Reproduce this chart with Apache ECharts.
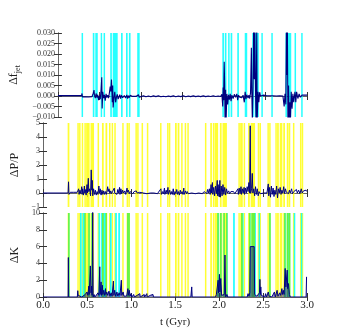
<!DOCTYPE html>
<html>
<head>
<meta charset="utf-8">
<script src="https://cdn.jsdelivr.net/npm/echarts@6/dist/echarts.min.js"></script>
<style>
  html, body { margin: 0; padding: 0; background: #fff; }
  #chart { width: 341px; height: 330px; }
</style>
</head>
<body>
<div id="chart"></div>
<script>
// time axis ticks (Gyr)
var xTicks = [0.0, 0.5, 1.0, 1.5, 2.0, 2.5, 3.0];

// jet fraction change, [t, value]
var fjetData = [
  [0.00,0.0002],[0.10,0.0002],[0.20,0.0002],[0.285,0.0002],[0.29,0.0012],[0.295,-0.0004],[0.31,0.0001],[0.33,-0.0004],
  [0.35,0.0000],[0.37,-0.0005],[0.39,0.0002],[0.41,-0.0003],[0.425,0.0012],[0.435,0.0028],[0.44,0.0004],[0.45,-0.0010],
  [0.46,0.0012],[0.47,-0.0008],[0.48,0.0006],[0.49,-0.0020],[0.50,0.0000],[0.51,-0.0015],[0.52,0.0030],[0.528,0.0089],
  [0.533,-0.0060],[0.54,0.0020],[0.55,-0.0010],[0.56,0.0005],[0.57,-0.0022],[0.58,0.0010],[0.59,-0.0008],[0.60,0.0004],
  [0.61,-0.0010],[0.62,0.0015],[0.63,0.0045],[0.637,0.0022],[0.645,0.0078],[0.65,0.0030],[0.655,-0.0030],[0.66,0.0050],
  [0.665,-0.0055],[0.675,-0.0010],[0.685,0.0020],[0.695,-0.0030],[0.705,-0.0005],[0.715,0.0008],[0.725,-0.0015],
  [0.735,-0.0005],[0.745,0.0006],[0.755,-0.0012],[0.765,0.0003],[0.78,-0.0008],[0.80,0.0002],[0.815,-0.0010],[0.83,0.0005],
  [0.84,-0.0012],[0.85,0.0002],[0.86,-0.0008],[0.87,0.0003],[0.885,-0.0006],[0.90,-0.0002],[0.92,-0.0008],[0.94,-0.0002],
  [0.96,-0.0010],[0.97,0.0006],[0.98,-0.0006],[1.00,-0.0003],[1.03,0.0001],[1.06,-0.0004],[1.09,0.0000],[1.12,-0.0004],
  [1.15,0.0001],[1.18,-0.0003],[1.21,0.0001],[1.24,-0.0004],[1.27,-0.0001],[1.30,-0.0004],[1.33,0.0000],[1.36,-0.0003],
  [1.39,0.0001],[1.42,-0.0004],[1.45,0.0000],[1.48,-0.0003],[1.51,0.0001],[1.54,-0.0004],[1.57,0.0000],[1.60,-0.0003],
  [1.63,0.0001],[1.66,-0.0003],[1.69,0.0000],[1.72,-0.0003],[1.75,0.0001],[1.78,-0.0003],[1.81,0.0000],[1.84,-0.0002],
  [1.87,0.0001],[1.90,-0.0002],[1.93,0.0000],[1.96,-0.0002],[1.975,0.0008],[1.985,-0.0050],[1.99,0.0040],[1.995,-0.0020],
  [2.003,0.0163],[2.008,0.0060],[2.013,-0.0120],[2.02,0.0030],[2.025,-0.0120],[2.035,0.0010],[2.045,-0.0040],[2.055,0.0006],
  [2.065,-0.0018],[2.075,0.0010],[2.085,-0.0025],[2.095,0.0004],[2.11,-0.0012],[2.125,0.0008],[2.14,-0.0006],[2.155,0.0010],
  [2.165,-0.0020],[2.175,0.0004],[2.19,-0.0006],[2.20,0.0002],[2.215,-0.0008],[2.23,0.0004],[2.245,-0.0030],[2.255,0.0020],
  [2.265,-0.0015],[2.275,0.0006],[2.29,-0.0010],[2.30,0.0004],[2.31,-0.0012],[2.32,0.0015],[2.33,0.0230],[2.335,0.0020],
  [2.342,-0.0120],[2.35,0.0040],[2.357,0.0320],[2.365,0.0080],[2.372,0.0320],[2.38,0.0020],[2.387,-0.0120],[2.395,0.0320],
  [2.40,-0.0120],[2.41,0.0020],[2.42,-0.0030],[2.43,0.0018],[2.44,0.0000],[2.455,-0.0008],[2.47,0.0004],[2.49,-0.0004],
  [2.51,0.0002],[2.53,-0.0003],[2.55,0.0001],[2.57,-0.0004],[2.59,0.0001],[2.61,-0.0003],[2.63,0.0000],[2.65,-0.0003],
  [2.67,0.0001],[2.69,-0.0003],[2.71,0.0000],[2.725,-0.0050],[2.735,0.0010],[2.745,-0.0040],[2.752,0.0320],[2.758,0.0100],
  [2.764,0.0320],[2.77,-0.0120],[2.778,0.0050],[2.785,-0.0120],[2.795,-0.0030],[2.80,-0.0120],[2.81,0.0020],[2.82,-0.0060],
  [2.83,0.0010],[2.84,-0.0030],[2.855,0.0020],[2.865,-0.0030],[2.875,0.0020],[2.89,-0.0012],[2.905,0.0010],[2.92,-0.0006],
  [2.94,0.0004],[2.96,0.0000],[2.98,0.0005],[3.00,0.0004]
];

// fractional period change, [t, value]
var dppData = [
  [0,0.0],[0.285,0.0],[0.29,0.8],[0.295,-0.1],[0.31,0.05],[0.33,-0.05],[0.35,0.05],[0.37,-0.05],[0.39,0.05],[0.405,0.3],
  [0.41,-0.1],[0.42,0.2],[0.43,-0.05],[0.44,0.45],[0.445,-0.1],[0.45,0.3],[0.46,-0.15],[0.47,0.5],[0.475,0.0],[0.48,0.25],
  [0.49,-0.15],[0.50,0.6],[0.505,0.0],[0.515,1.05],[0.52,0.1],[0.53,0.3],[0.54,-0.2],[0.548,1.65],[0.555,0.2],[0.56,0.9],
  [0.565,-0.2],[0.575,0.3],[0.585,-0.1],[0.595,0.2],[0.605,-0.15],[0.615,0.1],[0.625,-0.1],[0.635,0.5],[0.64,0.0],[0.65,0.3],
  [0.66,-0.15],[0.67,0.2],[0.68,-0.1],[0.69,0.15],[0.70,-0.1],[0.71,0.1],[0.72,-0.1],[0.735,0.45],[0.74,0.1],[0.75,0.3],
  [0.76,-0.05],[0.77,0.15],[0.78,-0.05],[0.79,0.1],[0.80,0.0],[0.81,0.35],[0.815,0.0],[0.83,0.1],[0.84,-0.1],[0.85,0.25],
  [0.86,0.0],[0.87,0.4],[0.875,-0.1],[0.885,0.3],[0.895,-0.05],[0.905,0.2],[0.915,0.0],[0.93,0.15],[0.94,-0.1],[0.955,0.35],
  [0.96,0.05],[0.97,0.2],[0.98,-0.05],[0.99,0.1],[1.00,0.0],[1.01,0.15],[1.02,-0.05],[1.035,0.1],[1.05,0.0],[1.06,0.15],
  [1.07,0.0],[1.08,0.1],[1.09,-0.05],[1.10,0.05],[1.12,0.1],[1.14,0.0],[1.16,0.05],[1.18,-0.05],[1.20,0.05],[1.22,0.0],
  [1.24,0.1],[1.26,0.0],[1.28,0.05],[1.30,-0.05],[1.32,0.05],[1.34,0.3],[1.345,-0.1],[1.36,0.1],[1.37,-0.05],[1.38,0.35],
  [1.385,-0.1],[1.40,0.2],[1.41,-0.05],[1.42,0.4],[1.425,-0.1],[1.44,0.2],[1.45,-0.1],[1.46,0.1],[1.47,-0.1],[1.48,0.3],
  [1.49,-0.15],[1.50,0.1],[1.51,-0.05],[1.52,0.25],[1.53,-0.1],[1.54,0.1],[1.55,-0.15],[1.56,0.2],[1.57,-0.05],[1.58,0.1],
  [1.59,-0.1],[1.60,0.35],[1.605,-0.1],[1.62,0.15],[1.63,-0.05],[1.64,0.1],[1.65,-0.05],[1.67,0.05],[1.69,0.0],[1.71,0.05],
  [1.73,-0.05],[1.75,0.05],[1.77,0.0],[1.79,0.05],[1.81,-0.05],[1.83,0.1],[1.85,0.2],[1.86,-0.05],[1.87,0.25],[1.88,0.0],
  [1.89,0.3],[1.90,-0.1],[1.91,0.6],[1.915,0.0],[1.925,0.75],[1.93,-0.1],[1.94,0.4],[1.95,-0.2],[1.96,0.5],[1.97,-0.05],
  [1.98,0.9],[1.985,-0.2],[1.99,0.6],[2.00,-0.25],[2.01,0.9],[2.015,-0.3],[2.025,0.5],[2.035,-0.2],[2.045,0.6],[2.055,-0.1],
  [2.065,0.4],[2.075,-0.15],[2.085,0.3],[2.095,0.0],[2.11,0.15],[2.12,-0.05],[2.135,0.1],[2.15,0.0],[2.165,0.1],[2.18,-0.05],
  [2.20,0.05],[2.215,0.3],[2.22,-0.1],[2.23,0.35],[2.24,-0.05],[2.25,0.45],[2.255,-0.1],[2.265,0.3],[2.275,0.0],[2.285,0.4],
  [2.29,-0.1],[2.30,0.35],[2.31,0.0],[2.32,0.45],[2.33,0.1],[2.34,0.75],[2.348,0.0],[2.355,4.8],[2.36,0.0],[2.37,0.3],
  [2.378,1.4],[2.385,0.0],[2.395,0.3],[2.405,-0.2],[2.415,0.45],[2.425,-0.1],[2.435,0.3],[2.445,-0.2],[2.455,0.1],[2.47,-0.05],
  [2.49,0.05],[2.51,0.0],[2.53,0.1],[2.545,0.0],[2.56,0.65],[2.565,-0.2],[2.575,0.4],[2.585,-0.3],[2.595,0.5],[2.605,-0.1],
  [2.615,0.35],[2.625,-0.25],[2.635,0.2],[2.645,-0.1],[2.655,0.5],[2.665,-0.35],[2.675,0.3],[2.685,0.0],[2.695,0.4],[2.705,-0.1],
  [2.715,0.2],[2.725,0.0],[2.735,0.45],[2.745,-0.05],[2.755,0.3],[2.765,0.05],[2.775,0.1],[2.79,-0.05],[2.80,0.2],[2.81,0.0],
  [2.825,0.3],[2.835,-0.05],[2.85,0.1],[2.865,0.0],[2.88,0.25],[2.89,0.0],[2.905,0.2],[2.92,-0.05],[2.935,0.3],[2.945,0.0],
  [2.96,0.15],[2.975,0.05],[2.99,0.2],[3.00,0.1]
];

// kinetic change, [t, value]
var dkData = [
  [0,0],[0.285,0],[0.288,4.7],[0.292,0],[0.39,0],[0.395,0.75],[0.40,0.2],[0.41,0.0],[0.44,0.0],[0.45,0.2],[0.46,0.0],
  [0.48,0.3],[0.49,0.1],[0.50,0.6],[0.51,0.2],[0.52,1.3],[0.525,0.3],[0.538,3.7],[0.545,0.5],[0.552,1.3],[0.558,0.2],
  [0.565,10.5],[0.57,0.0],[0.58,0.3],[0.59,0.0],[0.60,0.2],[0.61,0.0],[0.625,0.5],[0.635,0.2],[0.645,3.6],[0.65,0.3],
  [0.66,1.8],[0.665,0.2],[0.675,1.4],[0.68,0.3],[0.69,0.8],[0.70,0.2],[0.71,1.0],[0.715,0.3],[0.725,0.6],[0.735,0.2],
  [0.75,0.7],[0.76,0.1],[0.775,0.5],[0.785,0.1],[0.80,1.9],[0.805,0.2],[0.815,0.8],[0.825,0.1],[0.84,0.6],[0.85,0.1],
  [0.865,0.5],[0.875,0.2],[0.89,2.0],[0.895,0.2],[0.91,0.6],[0.92,0.1],[0.94,0.3],[0.95,0.1],[0.965,1.0],[0.97,0.2],
  [0.98,0.8],[0.99,0.1],[1.00,0.4],[1.01,0.0],[1.03,0.3],[1.04,0.0],[1.07,0.2],[1.08,0.0],[1.10,0.4],[1.105,0.0],
  [1.15,0.3],[1.155,0.0],[1.18,0.4],[1.185,0.0],[1.22,0.2],[1.225,0.0],[1.25,0.3],[1.255,0.0],[1.68,0.0],[1.69,1.2],
  [1.695,0.0],[1.96,0.0],[1.97,0.3],[1.98,0.1],[1.99,2.0],[1.995,0.5],[2.005,2.7],[2.01,0.6],[2.02,2.2],[2.03,0.2],
  [2.04,0.0],[2.06,0.3],[2.068,5.0],[2.075,0.0],[2.09,0.3],[2.10,0.0],[2.32,0.0],[2.33,0.4],[2.34,0.1],[2.35,0.5],
  [2.355,6.0],[2.40,6.0],[2.405,0.3],[2.42,0.5],[2.43,0.1],[2.44,0.3],[2.45,0.0],[2.46,0.5],[2.465,2.1],[2.47,0.3],
  [2.475,1.2],[2.48,0.2],[2.49,0.0],[2.52,0.0],[2.53,0.4],[2.54,0.0],[2.56,0.6],[2.57,0.1],[2.59,0.3],[2.60,0.0],
  [2.63,0.6],[2.64,0.0],[2.66,0.8],[2.67,0.1],[2.69,0.5],[2.70,0.2],[2.715,1.0],[2.72,0.3],[2.73,0.8],[2.74,0.3],
  [2.752,3.4],[2.76,1.2],[2.775,3.2],[2.78,1.0],[2.79,1.6],[2.80,0.3],[2.81,0.0],[2.99,0.0],[2.995,2.4],[3.0,2.4]
];

// highlighted time intervals [start, end]
var cyanBands = [
  [0.285,0.295],[0.42,0.44],[0.45,0.48],[0.515,0.53],[0.55,0.565],[0.63,0.65],[0.66,0.72],[0.76,0.78],[0.82,0.84],
  [0.855,0.875],[0.955,0.985],[1.98,2.00],[2.01,2.03],[2.05,2.06],[2.08,2.10],[2.16,2.18],[2.25,2.28],[2.34,2.36],
  [2.37,2.42],[2.45,2.46],[2.57,2.58],[2.74,2.76],[2.77,2.81],[2.85,2.86],[2.93,2.94]
];
var yellowBands = [
  [0.28,0.30],[0.39,0.40],[0.41,0.42],[0.44,0.45],[0.47,0.48],[0.49,0.53],[0.54,0.58],[0.62,0.63],[0.67,0.69],[0.71,0.73],
  [0.75,0.76],[0.78,0.79],[0.81,0.82],[0.90,0.91],[0.95,0.96],[0.97,0.98],[1.05,1.06],[1.07,1.08],[1.12,1.13],[1.18,1.19],
  [1.33,1.34],[1.41,1.42],[1.43,1.44],[1.50,1.52],[1.53,1.55],[1.57,1.58],[1.61,1.62],[1.64,1.65],[1.84,1.85],[1.90,1.92],
  [1.93,1.94],[1.95,1.99],[2.01,2.03],[2.04,2.09],[2.22,2.23],[2.24,2.27],[2.28,2.29],[2.33,2.35],[2.36,2.41],[2.44,2.45],
  [2.46,2.47],[2.55,2.56],[2.57,2.58],[2.64,2.65],[2.66,2.68],[2.69,2.72],[2.73,2.75],[2.77,2.78],[2.79,2.81],[2.84,2.85],
  [2.92,2.93],[2.94,2.95]
];

// overlap of the two band sets (drawn green in the bottom panel)
var bothBands = [];
cyanBands.forEach(function (c) {
  yellowBands.forEach(function (y) {
    var a = Math.max(c[0], y[0]), b = Math.min(c[1], y[1]);
    if (b > a) bothBands.push([a, b]);
  });
});

var chart = echarts.init(document.getElementById("chart"));
var SERIF = "Liberation Serif";
var grids = [
  { left: 43, right: 34, top: 33, height: 84 },
  { left: 43, right: 34, top: 123, height: 84 },
  { left: 43, right: 34, top: 213, height: 84 }
];
var yRanges = [
  { min: -0.01, max: 0.03, interval: 0.005 },
  { min: -1, max: 5, interval: 1 },
  { min: 0, max: 10, interval: 2 }
];
var yNames = ["{a|\u0394f}{b|jet}", "{a|\u0394P/P}", "{a|\u0394K}"];
var yNameGaps = [34, 21, 20];

function fmtY(i) {
  return function (v) {
    var s = i === 0 ? Math.abs(v).toFixed(3) : String(Math.abs(Math.round(v)));
    return (v < -1e-9 ? "\u2212" : "") + s;
  };
}

var xAxes = [], yAxes = [];
grids.forEach(function (g, i) {
  [ "bottom", "top" ].forEach(function (pos) {
    var showLabel = i === 2 && pos === "bottom";
    xAxes.push({
      type: "value", gridIndex: i, position: pos, min: 0, max: 3, interval: 0.5,
      axisLine: { show: true, lineStyle: { color: "#666", width: 1 } },
      axisTick: { show: true, inside: true, length: 4, lineStyle: { color: "#333" } },
      splitLine: { show: false },
      axisLabel: {
        show: showLabel, margin: 3, color: "#222", fontFamily: SERIF, fontSize: 11,
        formatter: function (v) { return v.toFixed(1); }
      },
      name: showLabel ? "t (Gyr)" : "", nameLocation: "middle", nameGap: 20,
      nameTextStyle: { fontFamily: SERIF, fontSize: 11, color: "#222" }
    });
  });
  [ "left", "right" ].forEach(function (pos) {
    var left = pos === "left";
    yAxes.push({
      type: "value", gridIndex: i, position: pos,
      min: yRanges[i].min, max: yRanges[i].max, interval: yRanges[i].interval,
      axisLine: { show: true, lineStyle: { color: "#666", width: 1 } },
      axisTick: { show: true, inside: true, length: 4, lineStyle: { color: "#333" } },
      splitLine: { show: false },
      axisLabel: {
        show: left, margin: 3, color: "#333", fontFamily: SERIF, fontSize: 8,
        showMinLabel: true, showMaxLabel: true, formatter: fmtY(i)
      },
      name: left ? yNames[i] : "", nameLocation: "middle", nameRotate: 90, nameGap: yNameGaps[i],
      nameTextStyle: {
        color: "#222",
        rich: {
          a: { fontFamily: SERIF, fontSize: 12, color: "#222" },
          b: { fontFamily: SERIF, fontSize: 8, color: "#222", padding: [7, 0, 0, 0] }
        }
      }
    });
  });
});

function bandSeries(bands, color, panel) {
  return {
    type: "custom", xAxisIndex: panel * 2, yAxisIndex: panel * 2, data: bands, silent: true, z: 1,
    encode: { x: [0, 1] },
    renderItem: function (params, api) {
      var cs = params.coordSys;
      var x0 = api.coord([api.value(0), yRanges[panel].min])[0];
      var x1 = api.coord([api.value(1), yRanges[panel].min])[0];
      return {
        type: "rect",
        shape: { x: x0, y: cs.y, width: Math.max(x1 - x0, 1.5), height: cs.height },
        style: { fill: color }
      };
    }
  };
}

var CYAN = "rgba(0,255,255,0.85)";
var YELLOW = "rgba(255,255,0,0.8)";
var GREEN = "rgba(128,240,20,0.8)";

var series = [
  bandSeries(cyanBands, CYAN, 0),
  bandSeries(yellowBands, YELLOW, 1),
  bandSeries(yellowBands, YELLOW, 2),
  bandSeries(cyanBands, CYAN, 2),
  bandSeries(bothBands, GREEN, 2),
  {
    type: "line", xAxisIndex: 0, yAxisIndex: 0, data: fjetData, showSymbol: false, z: 5,
    lineStyle: { color: "#000080", width: 1.1 }, silent: true
  },
  {
    type: "line", xAxisIndex: 2, yAxisIndex: 2, data: dppData, showSymbol: false, z: 5,
    lineStyle: { color: "#000080", width: 1 }, silent: true
  },
  {
    type: "line", xAxisIndex: 4, yAxisIndex: 4, data: dkData, showSymbol: false, z: 5,
    lineStyle: { color: "#000080", width: 1 }, silent: true,
    areaStyle: { color: "#000080", opacity: 0.45 }
  }
];

chart.setOption({
  animation: false,
  backgroundColor: "#fff",
  grid: grids,
  xAxis: xAxes,
  yAxis: yAxes,
  series: series
});
</script>
</body>
</html>
